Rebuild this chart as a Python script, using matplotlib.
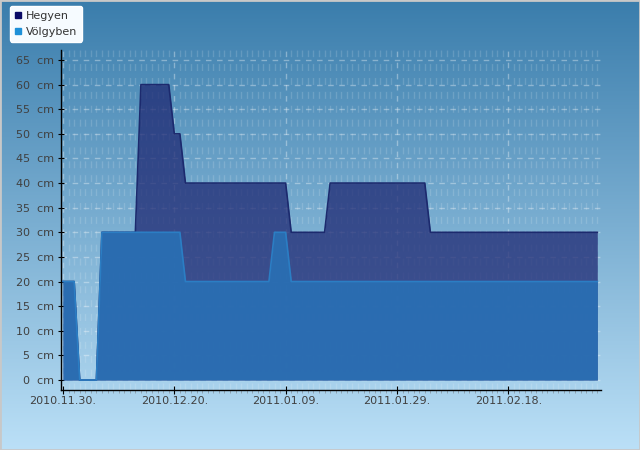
import numpy as np
import matplotlib
matplotlib.use("Agg")
import matplotlib.pyplot as plt
import matplotlib.dates as mdates
from matplotlib.lines import Line2D
from matplotlib.patches import Rectangle

# snow depth breakpoints (cm)
hegyen_dates = ["2010-11-30", "2010-12-02", "2010-12-03", "2010-12-06", "2010-12-07",
                "2010-12-13", "2010-12-14", "2010-12-19", "2010-12-20", "2010-12-21",
                "2010-12-22", "2011-01-09", "2011-01-10", "2011-01-16", "2011-01-17",
                "2011-02-03", "2011-02-04", "2011-03-06"]
hegyen_cm = [20, 20, 0, 0, 30, 30, 60, 60, 50, 50, 40, 40, 30, 30, 40, 40, 30, 30]

volgyben_dates = ["2010-11-30", "2010-12-02", "2010-12-03", "2010-12-06", "2010-12-07",
                  "2010-12-21", "2010-12-22", "2011-01-06", "2011-01-07", "2011-01-09",
                  "2011-01-10", "2011-03-06"]
volgyben_cm = [20, 20, 0, 0, 30, 30, 20, 20, 30, 30, 20, 20]

series_names = ["Hegyen", "Völgyben"]
tick_dates = ["2010-11-30", "2010-12-20", "2011-01-09", "2011-01-29", "2011-02-18"]

hx = mdates.date2num(np.array(hegyen_dates, dtype="datetime64[D]"))
vx = mdates.date2num(np.array(volgyben_dates, dtype="datetime64[D]"))
tx = mdates.date2num(np.array(tick_dates, dtype="datetime64[D]"))
start = tx[0]

fig = plt.figure(figsize=(6.4, 4.5), dpi=100)

# gradient background
bg = fig.add_axes([0, 0, 1, 1], zorder=-5)
top = np.array([58, 125, 172]) / 255
bot = np.array([187, 224, 247]) / 255
t = np.linspace(0, 1, 256)[:, None]
grad = top + (bot - top) * t
bg.imshow(grad[:, None, :].repeat(2, axis=1), aspect="auto", extent=[0, 1, 0, 1])
bg.add_patch(Rectangle((0, 0), 1, 1, transform=bg.transAxes, fill=False,
                       edgecolor="#c8c8c8", lw=2))
bg.axis("off")

ax = fig.add_axes([61 / 640, 1 - 390 / 450, 540 / 640, 340 / 450])
ax.patch.set_alpha(0)

heg_col = (0.12, 0.16, 0.45)
vol_col = (0.16, 0.44, 0.71)
ax.fill_between(hx, hegyen_cm, 0, color=heg_col, alpha=0.75, lw=0, zorder=2)
ax.plot(hx, hegyen_cm, color="#1c2a6e", lw=1.2, zorder=3)
ax.fill_between(vx, volgyben_cm, 0, color=vol_col, alpha=0.9, lw=0, zorder=4)
ax.plot(vx, volgyben_cm, color="#2b7ec4", lw=1.2, zorder=5)

ax.set_xlim(start - 0.36, start + 96.66)
ax.set_ylim(-2.03, 67.03)

ax.set_xticks(tx)
ax.set_xticks(np.arange(start, start + 97), minor=True)
ax.xaxis.set_major_formatter(mdates.DateFormatter("%Y.%m.%d."))
ax.set_yticks(np.arange(0, 66, 5))
ax.set_yticklabels([f"{v}  cm" for v in range(0, 66, 5)])

ax.tick_params(axis="both", which="major", labelsize=8, labelcolor="#404040",
               color="black", direction="inout")
ax.tick_params(axis="x", which="major", length=6, pad=1)
ax.tick_params(axis="y", which="major", length=4, pad=3)
ax.tick_params(axis="x", which="minor", length=2, color="#8a9aa8", direction="out")

for s in ["top", "right"]:
    ax.spines[s].set_visible(False)
for s in ["left", "bottom"]:
    ax.spines[s].set_color("black")
    ax.spines[s].set_linewidth(1)

ax.grid(True, which="major", color="white", alpha=0.35, lw=1, ls=(0, (4, 4)), zorder=1)
ax.grid(True, which="minor", axis="x", color="white", alpha=0.15, lw=1,
        ls=(0, (5, 5)), zorder=1)
ax.set_axisbelow(True)

handles = [Line2D([], [], ls="", marker="s", markersize=5, color="#0a0a66"),
           Line2D([], [], ls="", marker="s", markersize=5, color="#1e90d8")]
leg = fig.legend(handles, series_names, loc="upper left",
                 bbox_to_anchor=(10 / 640, 1 - 6 / 450), borderaxespad=0,
                 fontsize=8, handlelength=0.6, handletextpad=0.4,
                 labelspacing=0.5, borderpad=0.45, fancybox=True, framealpha=1,
                 facecolor="#f6fbff", edgecolor="white")
for txt in leg.get_texts():
    txt.set_color("#333333")

fig.savefig("out.png", dpi=100)
